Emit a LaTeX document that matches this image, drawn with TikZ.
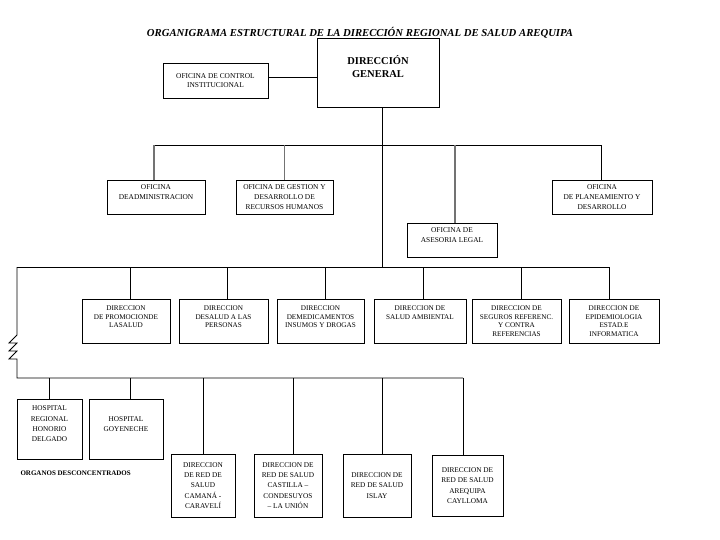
\documentclass[tikz,border=0pt]{standalone}
\usepackage{fontspec}
\setmainfont{Liberation Serif}

\begin{document}
\begin{tikzpicture}[x=1pt, y=-1pt,
        box/.style={draw, line width=0.8pt, inner sep=1pt, align=center, font=\fontsize{7.4}{9.6}\selectfont},
        lvltwo/.style={box, minimum height=34pt},
        lvlthree/.style={box, minimum height=44pt, font=\fontsize{7.2}{8.6}\selectfont},
        lvlfour/.style={box, font=\fontsize{7.3}{10.4}\selectfont},
        link/.style={line width=0.8pt},
        drop/.style={line width=1.2pt, black!55}]

        \useasboundingbox (0,0) rectangle (720,540);

        \node[font=\fontsize{10.7}{12}\selectfont\bfseries\itshape] (title) at (360,33) {ORGANIGRAMA ESTRUCTURAL DE LA DIRECCIÓN REGIONAL DE SALUD AREQUIPA};

        \node[box, minimum width=122pt, minimum height=69pt, font=\fontsize{10.5}{13}\selectfont\bfseries] (dg) at (378,72.5) {DIRECCIÓN\\GENERAL\\ \mbox{}};
        \node[box, minimum width=105pt, minimum height=35pt] (oci) at (215.5,80.5) {OFICINA DE CONTROL\\INSTITUCIONAL};

        \node[lvltwo, minimum width=98pt]  (adm) at (156,197)   {OFICINA\\DEADMINISTRACION\\ \mbox{}};
        \node[lvltwo, minimum width=97pt]  (ges) at (284.5,197) {OFICINA DE GESTION Y\\DESARROLLO DE\\RECURSOS  HUMANOS};
        \node[lvltwo, minimum width=90pt]  (ase) at (452,240)   {OFICINA DE\\ASESORIA LEGAL\\ \mbox{}};
        \node[lvltwo, minimum width=100pt] (pla) at (602,197)   {OFICINA\\DE PLANEAMIENTO Y\\DESARROLLO};

        \node[lvlthree, minimum width=88pt] (prom) at (126,321)   {DIRECCION\\DE PROMOCIONDE\\LASALUD\\ \mbox{}};
        \node[lvlthree, minimum width=89pt] (pers) at (223.5,321) {DIRECCION\\DESALUD A LAS\\PERSONAS\\ \mbox{}};
        \node[lvlthree, minimum width=87pt] (med)  at (320.5,321) {DIRECCION\\DEMEDICAMENTOS\\INSUMOS Y DROGAS\\ \mbox{}};
        \node[lvlthree, minimum width=92pt] (amb)  at (420,321)   {DIRECCION  DE\\SALUD AMBIENTAL\\ \mbox{}\\ \mbox{}};
        \node[lvlthree, minimum width=89pt] (seg)  at (516.5,321) {DIRECCION DE\\SEGUROS REFERENC.\\Y CONTRA\\REFERENCIAS};
        \node[lvlthree, minimum width=90pt] (epi)  at (614,321)   {DIRECCION DE\\EPIDEMIOLOGIA\\ESTAD.E\\INFORMATICA};

        \node[lvlfour, minimum width=65pt, minimum height=60pt] (hr)  at (49.5,429)  {HOSPITAL\\REGIONAL\\HONORIO\\DELGADO\\ \mbox{}};
        \node[lvlfour, minimum width=74pt, minimum height=60pt] (hg)  at (126,429)   {HOSPITAL\\GOYENECHE\\ \mbox{}};
        \node[lvlfour, minimum width=64pt, minimum height=63pt] (cam) at (203,485.5) {DIRECCION\\DE RED DE\\SALUD\\CAMANÁ -\\CARAVELÍ};
        \node[lvlfour, minimum width=68pt, minimum height=63pt] (cas) at (288,485.5) {DIRECCION DE\\RED DE SALUD\\CASTILLA –\\CONDESUYOS\\– LA UNIÓN};
        \node[lvlfour, minimum width=68pt, minimum height=63pt] (isl) at (377,485.5) {DIRECCION DE\\RED DE SALUD\\ISLAY};
        \node[lvlfour, minimum width=71pt, minimum height=61pt] (are) at (467.5,485.5) {DIRECCION DE\\RED DE SALUD\\AREQUIPA\\CAYLLOMA};

        \node[font=\fontsize{7}{8}\selectfont\bfseries, anchor=west] (org) at (17,473) {ORGANOS  DESCONCENTRADOS};

        \coordinate (b2) at (382,145);
        \coordinate (b3) at (382,267);
        \coordinate (corner) at (17,267);
        \coordinate (zz) at (17,335);
        \coordinate (b4) at (17,378);

        \draw[link] ([yshift=3.5pt]oci.east) -- ([yshift=3.5pt]oci.east -| dg.west);
        \draw[link] ([xshift=4pt]dg.south) -- (b3);

        % nivel de apoyo y asesoria
        \draw[link] ([xshift=-2pt]adm.north |- b2) -- (pla.north |- b2);
        \draw[drop] ([xshift=-2pt]adm.north) -- ([xshift=-2pt]adm.north |- b2);
        \draw[drop] (ges.north) -- (ges.north |- b2);
        \draw[drop] ([xshift=3pt]ase.north) -- ([xshift=3pt]ase.north |- b2);
        \draw[link] ([xshift=-1pt]pla.north) -- ([xshift=-1pt]pla.north |- b2);

        % direcciones de linea
        \draw[link] (corner) -- ([xshift=-5pt]epi.north |- b3);
        \draw[link] ([xshift=4pt]prom.north) -- ([xshift=4pt]prom.north |- b3);
        \draw[link] ([xshift=3.5pt]pers.north) -- ([xshift=3.5pt]pers.north |- b3);
        \draw[link] ([xshift=4.5pt]med.north) -- ([xshift=4.5pt]med.north |- b3);
        \draw[link] ([xshift=3pt]amb.north) -- ([xshift=3pt]amb.north |- b3);
        \draw[link] ([xshift=4.5pt]seg.north) -- ([xshift=4.5pt]seg.north |- b3);
        \draw[link] ([xshift=-5pt]epi.north) -- ([xshift=-5pt]epi.north |- b3);

        % organos desconcentrados
        \draw[link] (corner) -- (zz) -- ++(-8,8) -- ++(8,0) -- ++(-8,8) -- ++(8,0) -- ++(-8,8) -- ++(8,0) -- (b4) -- ([xshift=-4.5pt]are.north |- b4);
        \draw[link] (hr.north) -- (hr.north |- b4);
        \draw[link] ([xshift=4pt]hg.north) -- ([xshift=4pt]hg.north |- b4);
        \draw[link] (cam.north) -- (cam.north |- b4);
        \draw[link] ([xshift=5pt]cas.north) -- ([xshift=5pt]cas.north |- b4);
        \draw[link] ([xshift=5pt]isl.north) -- ([xshift=5pt]isl.north |- b4);
        \draw[link] ([xshift=-4.5pt]are.north) -- ([xshift=-4.5pt]are.north |- b4);

    \end{tikzpicture}
\end{document}
